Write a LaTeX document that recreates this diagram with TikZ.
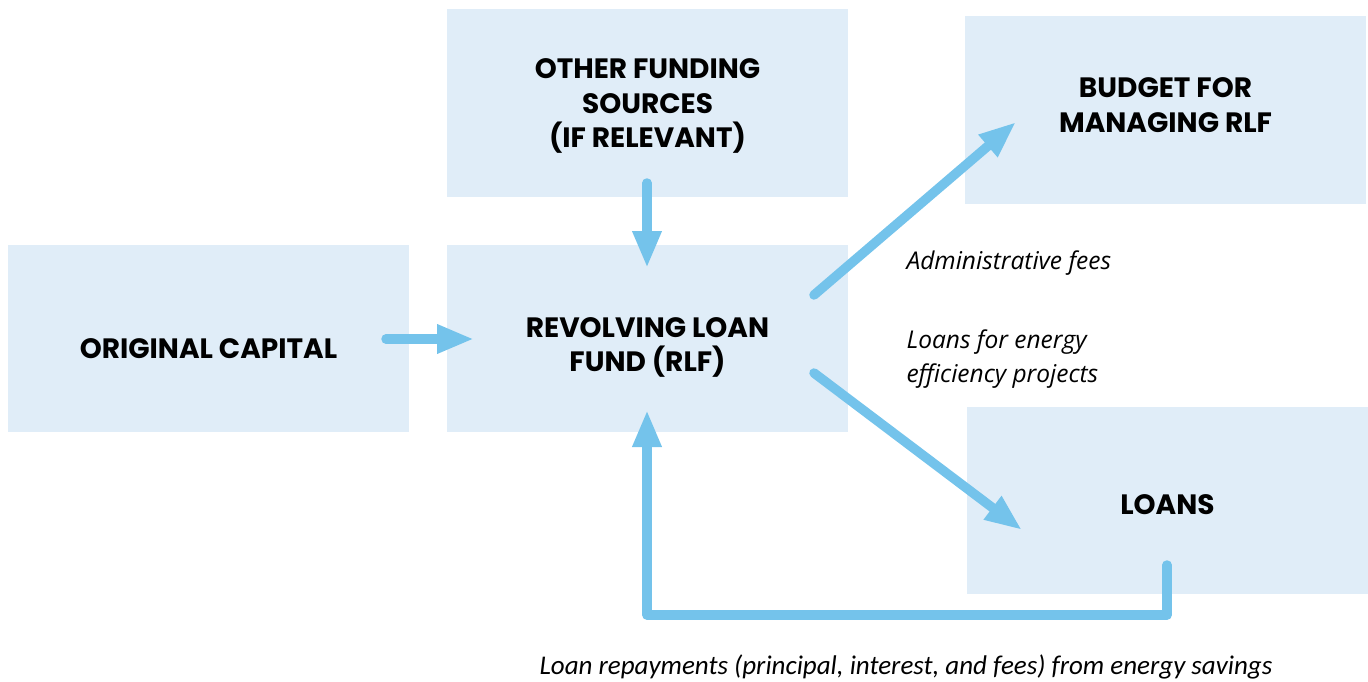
\documentclass[tikz,border=0pt]{standalone}
\usepackage{fontspec}
\setmainfont{Poppins}
\newfontfamily\notefont{Open Sans}
\newfontfamily\footfont{Carlito}
\usetikzlibrary{arrows.meta,positioning}

\definecolor{boxfill}{HTML}{E0EDF8}
\definecolor{flowblue}{HTML}{74C3EB}

\tikzset{
  fundbox/.style={fill=boxfill,minimum width=401pt,minimum height=187pt,inner sep=0pt},
  title/.style={align=center,font=\fontsize{28}{34.5}\selectfont\bfseries,inner sep=0pt},
  flow/.style={draw=flowblue,line width=9.5pt,line cap=round,line join=round,
    -{Triangle[length=37pt,width=27pt]}},
  note/.style={font=\notefont\fontsize{24.5}{34}\selectfont\itshape,align=left,anchor=west}
}

\begin{document}
\begin{tikzpicture}[x=1pt,y=-1pt]
  \useasboundingbox (0,0) rectangle (1368,682);

  % boxes
  \node[fundbox] (rlf) at (647.5,338.5) {};
  \node[fundbox] (capital) at (208.5,338.5) {};
  \node[fundbox] (other) at (647.5,103) {};
  \node[fundbox] (budget) at (1165.5,110) {};
  \node[fundbox] (loans) at (1167.5,500.5) {};

  % box titles
  \node[title] (rlfText) at ([yshift=-9pt]rlf.center) {REVOLVING LOAN\\FUND (RLF)};
  \node[title] (capitalText) at ([yshift=-10pt]capital.center) {ORIGINAL CAPITAL};
  \node[title] (otherText) at ([yshift=-3pt]other.center) {OTHER FUNDING\\SOURCES\\(IF RELEVANT)};
  \node[title] (budgetText) at ([yshift=5pt]budget.center) {BUDGET FOR\\MANAGING RLF};
  \node[title] (loansText) at ([yshift=-4pt]loans.center) {LOANS};

  % arrow ends
  \coordinate (capOut) at (386,339);
  \coordinate (rlfIn) at (474,339);
  \coordinate (otherOut) at (647,183);
  \coordinate (rlfTop) at (647,268);
  \coordinate (rlfUp) at (814,295);
  \coordinate (budgetIn) at (1016,122);
  \coordinate (rlfDown) at (814,373);
  \coordinate (loansIn) at (1022,530);
  \coordinate (loansOut) at (1167,565);
  \coordinate (rlfBottom) at (647,410);

  \draw[flow] (capOut) -- (rlfIn);
  \draw[flow] (otherOut) -- (rlfTop);
  \draw[flow] (rlfUp) -- (budgetIn);
  \draw[flow] (rlfDown) -- (loansIn);
  \draw[flow] (loansOut) |- (647,615) -- (rlfBottom);

  % labels
  \node[note] (fees) at (903,263) {Administrative fees};
  \node[note] (lending) at (903,359) {Loans for energy\\efficiency projects};
  \node[font=\footfont\fontsize{27}{30}\selectfont\itshape] (repay) at (906,667)
    {Loan repayments (principal, interest, and fees) from energy savings};
\end{tikzpicture}
\end{document}
